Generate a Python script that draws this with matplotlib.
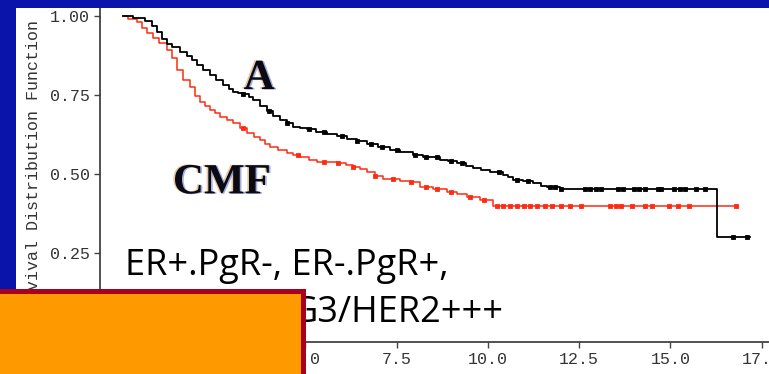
import numpy as np
import matplotlib
matplotlib.use("Agg")
import matplotlib.pyplot as plt
from matplotlib.patches import Rectangle
import matplotlib.patheffects as pe

# Kaplan-Meier step data (time in years, survival probability)
a_time = [0.0, 0.27, 0.6, 0.79, 0.93, 1.07, 1.21, 1.34, 1.56, 1.75, 1.89, 2.03, 2.2,
          2.38, 2.55, 2.74, 2.9, 3.01, 3.15, 3.29, 3.45, 3.56, 3.75, 3.95, 4.12, 4.30,
          4.48, 4.66, 4.85, 5.04, 5.3, 5.59, 5.85, 6.14, 6.4, 6.68, 7.0, 7.32, 7.59,
          7.95, 8.22, 8.68, 8.9, 9.15, 9.4, 9.59, 9.8, 10.05, 10.41, 10.55, 10.68,
          10.95, 11.23, 11.45, 11.62, 11.97, 16.27]
a_surv = [1.0, 0.994, 0.984, 0.968, 0.948, 0.926, 0.912, 0.903, 0.885, 0.872, 0.862,
          0.845, 0.828, 0.812, 0.797, 0.782, 0.768, 0.760, 0.757, 0.752, 0.742, 0.733,
          0.716, 0.700, 0.684, 0.670, 0.660, 0.648, 0.645, 0.641, 0.634, 0.627, 0.619,
          0.611, 0.603, 0.595, 0.585, 0.575, 0.570, 0.560, 0.552, 0.544, 0.540, 0.533,
          0.526, 0.519, 0.512, 0.505, 0.497, 0.490, 0.482, 0.477, 0.471, 0.463, 0.457,
          0.453, 0.300]
a_end = 17.18
a_censor = [3.3, 4.0, 4.5, 5.1, 5.5, 6.0, 6.4, 6.8, 7.1, 7.5, 8.0, 8.3, 8.6, 9.0, 9.3,
            10.3, 10.8, 11.1, 11.7, 11.85, 12.0, 12.65, 12.8, 12.95, 13.1, 13.55, 13.7,
            14.0, 14.15, 14.3, 14.65, 14.75, 15.1, 15.25, 15.4, 15.7, 15.95, 16.7, 17.1]

cmf_time = [0.0, 0.14, 0.38, 0.52, 0.66, 0.82, 1.0, 1.21, 1.34, 1.48, 1.64, 1.84, 1.97,
            2.11, 2.25, 2.38, 2.52, 2.66, 2.85, 3.01, 3.2, 3.40, 3.58, 3.75, 3.9, 4.03,
            4.25, 4.49, 4.65, 4.85, 5.1, 5.32, 5.86, 6.1, 6.30, 6.5, 6.68, 6.9, 7.12,
            7.59, 7.86, 8.14, 8.5, 8.88, 9.15, 9.42, 9.78, 10.14]
cmf_surv = [1.0, 0.99, 0.98, 0.962, 0.946, 0.93, 0.915, 0.893, 0.868, 0.83, 0.798,
            0.775, 0.745, 0.726, 0.714, 0.703, 0.692, 0.680, 0.670, 0.661, 0.646, 0.630,
            0.618, 0.608, 0.596, 0.586, 0.576, 0.566, 0.560, 0.554, 0.545, 0.538, 0.534,
            0.528, 0.522, 0.514, 0.506, 0.494, 0.484, 0.477, 0.474, 0.459, 0.451, 0.443,
            0.435, 0.428, 0.418, 0.397]
cmf_end = 16.85
cmf_censor = [3.3, 4.8, 5.5, 5.9, 6.3, 6.9, 7.4, 7.9, 8.3, 8.6, 9.0, 9.5, 9.9, 10.25,
              10.4, 10.6, 10.8, 11.0, 11.15, 11.35, 11.55, 11.75, 12.0, 12.25, 12.55,
              13.35, 13.5, 13.65, 13.95, 14.3, 14.5, 14.95, 15.2, 15.5, 16.8]

x_ticks = [0.0, 2.5, 5.0, 7.5, 10.0, 12.5, 15.0, 17.5]
y_ticks = [0.0, 0.25, 0.5, 0.75, 1.0]

W, H = 769, 374
fig = plt.figure(figsize=(W / 100, H / 100), dpi=100, facecolor="white")


def fx(px):
    return px / W


def fy(py):
    return (H - py) / H


ax = fig.add_axes([fx(100), fy(342), 1 - fx(100), fy(8) - fy(342)])
ax.set_xlim(-0.63, 17.70)
ax.set_ylim(-0.032, 1.025)


def km(ax, t, s, end, censor, color, lw, ms):
    tt = list(t) + [end]
    ss = list(s) + [s[-1]]
    ax.plot(tt, ss, drawstyle="steps-post", color=color, lw=lw, zorder=3)
    idx = np.searchsorted(np.asarray(t), np.asarray(censor), side="right") - 1
    cy = np.asarray(s)[idx]
    ax.plot(censor, cy, ls="none", marker="s", ms=ms, mfc=color, mec=color,
            mew=0.6, zorder=4)


km(ax, cmf_time, cmf_surv, cmf_end, cmf_censor, "#ff2a12", 1.1, 3.0)
km(ax, a_time, a_surv, a_end, a_censor, "black", 1.3, 3.4)

mono = "Liberation Mono"
ax.set_xticks(x_ticks)
ax.set_yticks(y_ticks)
ax.set_xticklabels([f"{v:.1f}" for v in x_ticks], fontfamily=mono, fontsize=12,
                   color="#333333")
ax.set_yticklabels([f"{v:.2f}" for v in y_ticks], fontfamily=mono, fontsize=12,
                   color="#333333")
ax.tick_params(direction="out", length=4, width=1, color="#444444", pad=3)
for side in ("top", "right"):
    ax.spines[side].set_visible(False)
for side in ("left", "bottom"):
    ax.spines[side].set_color("#333333")
    ax.spines[side].set_linewidth(1.2)

fig.text(fx(34), fy(170), "Survival Distribution Function", rotation=90,
         ha="center", va="center", fontfamily=mono, fontsize=12, color="#333333")

shadow = [pe.SimplePatchShadow(offset=(-1.2, 0.3), shadow_rgbFace="#d89850", alpha=0.55),
          pe.SimplePatchShadow(offset=(1.2, -0.3), shadow_rgbFace="#5070c8", alpha=0.55),
          pe.Normal()]
ax.text(3.73, 0.80, "A", ha="center", va="center", fontfamily="Liberation Serif",
        fontweight="bold", fontsize=31, color="#0a0a14", path_effects=shadow, zorder=5)
ax.text(2.71, 0.47, "CMF", ha="center", va="center", fontfamily="Liberation Serif",
        fontweight="bold", fontsize=31, color="#0a0a14", path_effects=shadow, zorder=5)

ax.text(0.05, 0.18, "ER+.PgR-, ER-.PgR+,", ha="left", va="baseline",
        fontfamily="Open Sans", fontsize=26, color="black", zorder=5)
ax.text(4.63, 0.032, "G3/HER2+++", ha="left", va="baseline",
        fontfamily="Open Sans", fontsize=26, color="black", zorder=5)

# frame bands and the overlapping orange panel
blue = "#0a14aa"
fig.add_artist(Rectangle((0, fy(8)), 1, 1 - fy(8), transform=fig.transFigure,
                         facecolor=blue, edgecolor="none", zorder=10))
fig.add_artist(Rectangle((0, 0), fx(16), 1, transform=fig.transFigure,
                         facecolor=blue, edgecolor="none", zorder=10))
fig.add_artist(Rectangle((fx(-10), fy(384)), fx(312.5), fy(290.5) - fy(384),
                         transform=fig.transFigure, facecolor="#ff9900",
                         edgecolor="#a8001e", linewidth=3.6, zorder=11))

fig.savefig("out.png", dpi=100, facecolor="white")
